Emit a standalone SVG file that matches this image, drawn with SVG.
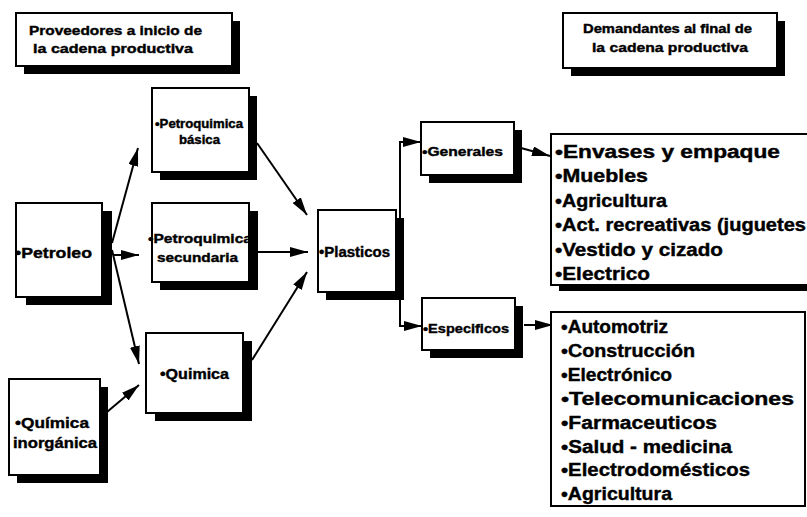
<svg xmlns="http://www.w3.org/2000/svg" width="807" height="517" viewBox="0 0 807 517">
<style>
.bg{fill:#fff}
.box{fill:#fff;stroke:#000;stroke-width:2}
.sh{fill:#000}
.t{font-family:"Liberation Sans",Arial,Helvetica,sans-serif;font-weight:bold;fill:#000;stroke:#000;stroke-width:0.4}
.h{font-size:13px}
.l{font-size:18px}
.c{stroke:#000;stroke-width:2;fill:none}
</style>
<defs>
<marker id="ah" markerUnits="userSpaceOnUse" markerWidth="20" markerHeight="12" refX="18" refY="5" orient="auto">
<path d="M0,0 L18,5 L0,10 Z" fill="#000"/>
</marker>
</defs>
<rect class="bg" x="0" y="0" width="807" height="517"/>

<g id="connectors">
<line class="c" x1="112" y1="243" x2="138" y2="148" marker-end="url(#ah)"/>
<line class="c" x1="113" y1="255" x2="139" y2="255" marker-end="url(#ah)"/>
<line class="c" x1="112" y1="250" x2="139" y2="364" marker-end="url(#ah)"/>
<line class="c" x1="107" y1="412" x2="139" y2="385" marker-end="url(#ah)"/>
<line class="c" x1="257" y1="143" x2="307" y2="215" marker-end="url(#ah)"/>
<line class="c" x1="258" y1="252" x2="308" y2="252" marker-end="url(#ah)"/>
<line class="c" x1="252" y1="360" x2="307" y2="272" marker-end="url(#ah)"/>
<line class="c" x1="400" y1="141" x2="400" y2="327"/>
<line class="c" x1="400" y1="142" x2="421" y2="142" marker-end="url(#ah)"/>
<line class="c" x1="400" y1="326" x2="422" y2="326" marker-end="url(#ah)"/>
<line class="c" x1="521" y1="148" x2="550" y2="156" marker-end="url(#ah)"/>
<line class="c" x1="524" y1="325" x2="553" y2="325" marker-end="url(#ah)"/>
</g>

<g id="proveedores">
<rect class="sh" x="24" y="21" width="216" height="53"/>
<rect class="box" x="16" y="13" width="216" height="53"/>
<text class="t h" x="29" y="35" textLength="173" lengthAdjust="spacingAndGlyphs">Proveedores a inicio de</text>
<text class="t h" x="33" y="53" textLength="160" lengthAdjust="spacingAndGlyphs">la cadena productiva</text>
</g>

<g id="demandantes">
<rect class="sh" x="571" y="21" width="214" height="55"/>
<rect class="box" x="563" y="13" width="214" height="55"/>
<text class="t h" x="583" y="33" textLength="169" lengthAdjust="spacingAndGlyphs">Demandantes al final de</text>
<text class="t h" x="592" y="52" textLength="156" lengthAdjust="spacingAndGlyphs">la cadena productiva</text>
</g>

<g id="petroquimica-basica">
<rect class="sh" x="160" y="96" width="97" height="84"/>
<rect class="box" x="152" y="88" width="97" height="84"/>
<text class="t" font-size="12" x="155" y="128" textLength="88" lengthAdjust="spacingAndGlyphs">•Petroquimica</text>
<text class="t" font-size="12" x="179" y="144" textLength="41" lengthAdjust="spacingAndGlyphs">básica</text>
</g>

<g id="petroquimica-secundaria">
<rect class="sh" x="160" y="211" width="98" height="79"/>
<rect class="box" x="152" y="203" width="97" height="79"/>
<text class="t" font-size="13" x="148" y="243" textLength="104" lengthAdjust="spacingAndGlyphs">•Petroquimica</text>
<text class="t" font-size="13" x="157" y="262" textLength="81" lengthAdjust="spacingAndGlyphs">secundaria</text>
</g>

<g id="petroleo">
<rect class="sh" x="26" y="211" width="86" height="94"/>
<rect class="box" x="16" y="203" width="86" height="94"/>
<text class="t" font-size="15" x="15" y="258" textLength="77" lengthAdjust="spacingAndGlyphs">•Petroleo</text>
</g>

<g id="quimica">
<rect class="sh" x="155" y="341" width="97" height="80"/>
<rect class="box" x="146" y="333" width="97" height="80"/>
<text class="t" font-size="14" x="160" y="379" textLength="69" lengthAdjust="spacingAndGlyphs">•Quimica</text>
</g>

<g id="quimica-inorganica">
<rect class="sh" x="17" y="387" width="91" height="96"/>
<rect class="box" x="9" y="379" width="91" height="96"/>
<text class="t" font-size="15" x="15" y="428" textLength="74" lengthAdjust="spacingAndGlyphs">•Química</text>
<text class="t" font-size="15" x="13" y="448" textLength="84" lengthAdjust="spacingAndGlyphs">inorgánica</text>
</g>

<g id="plasticos">
<rect class="sh" x="326" y="218" width="78" height="82"/>
<rect class="box" x="318" y="210" width="78" height="82"/>
<text class="t" font-size="14" x="319" y="257" textLength="71" lengthAdjust="spacingAndGlyphs">•Plasticos</text>
</g>

<g id="generales">
<rect class="sh" x="429" y="130" width="93" height="53"/>
<rect class="box" x="421" y="122" width="93" height="53"/>
<text class="t" font-size="13" x="422" y="156" textLength="81" lengthAdjust="spacingAndGlyphs">•Generales</text>
</g>

<g id="especificos">
<rect class="sh" x="430" y="306" width="93" height="52"/>
<rect class="box" x="422" y="298" width="93" height="52"/>
<text class="t" font-size="13" x="423" y="333" textLength="86" lengthAdjust="spacingAndGlyphs">•Especificos</text>
</g>

<g id="lista-generales">
<rect class="sh" x="559" y="143" width="260" height="148"/>
<rect class="box" x="551" y="134" width="262" height="151"/>
<text class="t l" x="555" y="158" textLength="225" lengthAdjust="spacingAndGlyphs">•Envases y empaque</text>
<text class="t l" x="555" y="182" textLength="93" lengthAdjust="spacingAndGlyphs">•Muebles</text>
<text class="t l" x="555" y="207" textLength="112" lengthAdjust="spacingAndGlyphs">•Agricultura</text>
<text class="t l" x="555" y="231" textLength="251" lengthAdjust="spacingAndGlyphs">•Act. recreativas (juguetes</text>
<text class="t l" x="555" y="256" textLength="168" lengthAdjust="spacingAndGlyphs">•Vestido y cizado</text>
<text class="t l" x="555" y="280" textLength="95" lengthAdjust="spacingAndGlyphs">•Electrico</text>
</g>

<g id="lista-especificos">
<rect class="box" x="551" y="312" width="254" height="194"/>
<text class="t l" x="561" y="333" textLength="107" lengthAdjust="spacingAndGlyphs">•Automotriz</text>
<text class="t l" x="561" y="357" textLength="134" lengthAdjust="spacingAndGlyphs">•Construcción</text>
<text class="t l" x="561" y="381" textLength="111" lengthAdjust="spacingAndGlyphs">•Electrónico</text>
<text class="t l" x="561" y="405" textLength="233" lengthAdjust="spacingAndGlyphs">•Telecomunicaciones</text>
<text class="t l" x="561" y="429" textLength="156" lengthAdjust="spacingAndGlyphs">•Farmaceuticos</text>
<text class="t l" x="561" y="453" textLength="171" lengthAdjust="spacingAndGlyphs">•Salud - medicina</text>
<text class="t l" x="561" y="476" textLength="189" lengthAdjust="spacingAndGlyphs">•Electrodomésticos</text>
<text class="t l" x="561" y="500" textLength="111" lengthAdjust="spacingAndGlyphs">•Agricultura</text>
</g>
</svg>
